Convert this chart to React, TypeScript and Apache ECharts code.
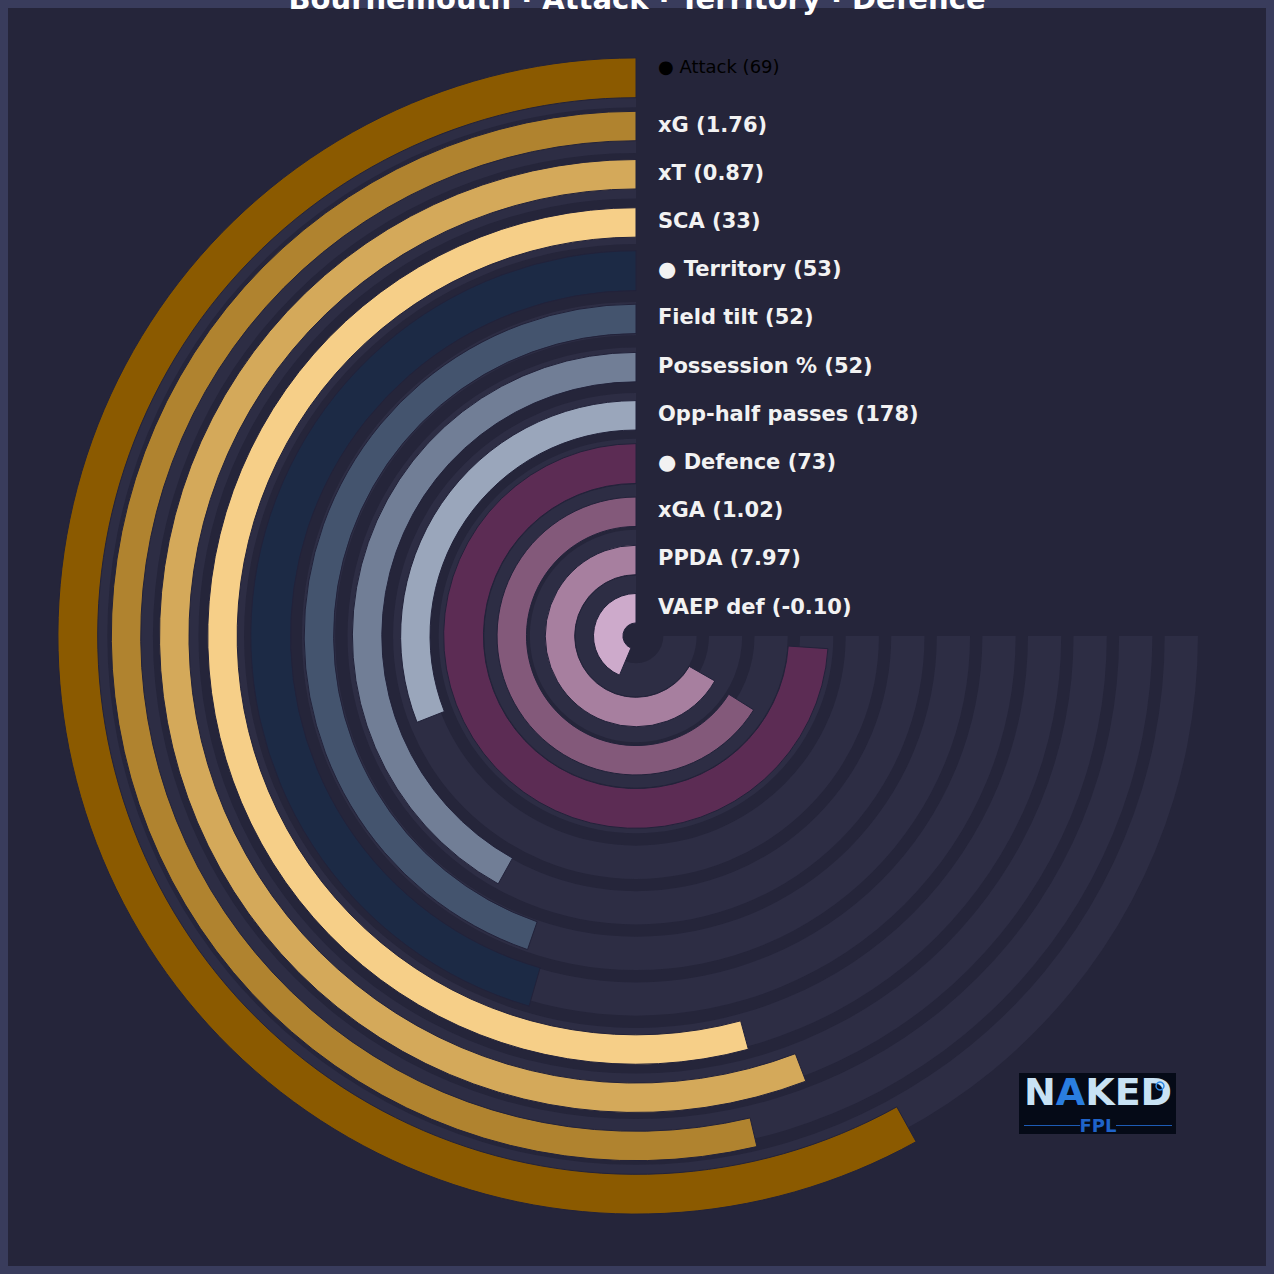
import React, { useEffect, useRef } from 'react';
import * as echarts from 'echarts';

const TITLE = 'Bournemouth · Attack · Territory · Defence';
const METRICS = ['Attack', 'xG', 'xT', 'SCA', 'Territory', 'Field tilt', 'Possession %', 'Opp-half passes', 'Defence', 'xGA', 'PPDA', 'VAEP def'];
const DISPLAY_VALUES = ['69', '1.76', '0.87', '33', '53', '52', '52', '178', '73', '1.02', '7.97', '-0.10'];
const PERCENTILES = [77.4, 71.6, 74.4, 72.3, 60.7, 59.6, 55.9, 41.3, 98.6, 88.1, 89.0, 58.2];
const IS_GROUP = [true, false, false, false, true, false, false, false, true, false, false, false];
const TRACK_MAX = 100;

const BAR_COLORS = ['#8b5a00', '#b0832f', '#d4a95a', '#f6cf88', '#1c2a45', '#44546e', '#717e96', '#9aa6bb', '#5c2c54', '#83597a', '#a77f9f', '#cdaacb'];
const TRACK_COLOR = '#2d2d44';
const BG_INNER = '#25253a';
const BG_FRAME = '#393c5c';
const FONT = '"DejaVu Sans", sans-serif';

function sectorFrom(params: any, api: any, frac: number) {
  const idx = api.value(0);
  const v = api.value(1);
  const cs = params.coordSys;
  const start = api.coord([idx, 0]);
  const end = api.coord([idx, v]);
  const band = api.size([1, 0])[0];
  const rMid = start[2];
  const half = (band * frac) / 2;
  return {
    start,
    shape: {
      cx: cs.cx,
      cy: cs.cy,
      r0: rMid - half,
      r: rMid + half,
      startAngle: -start[3],
      endAngle: -end[3],
      clockwise: end[3] < start[3],
    },
  };
}

export default function App() {
  const ref = useRef<HTMLDivElement>(null);
  useEffect(() => {
    const chart = echarts.init(ref.current!, null, { renderer: 'svg' });
    const angleMax = (TRACK_MAX * 360) / 270;
    const angleAxisBase = { type: 'value', min: 0, max: angleMax, startAngle: 90, clockwise: false, show: false };
    const radiusAxisBase = { type: 'category', data: METRICS, inverse: true, show: false };

    const option: any = {
      animation: false,
      polar: [
        { center: [636, 636], radius: [3.7, 582.3] },
        { center: [636, 636], radius: [21.2, 568.1] },
      ],
      angleAxis: [
        { ...angleAxisBase, polarIndex: 0 },
        { ...angleAxisBase, polarIndex: 1 },
      ],
      radiusAxis: [
        { ...radiusAxisBase, polarIndex: 0 },
        { ...radiusAxisBase, polarIndex: 1 },
      ],
      series: [
        {
          type: 'custom',
          coordinateSystem: 'polar',
          polarIndex: 1,
          z: 2,
          data: METRICS.map((_, i) => [i, TRACK_MAX]),
          renderItem: (params: any, api: any) => {
            const s = sectorFrom(params, api, 0.73);
            return { type: 'sector', shape: s.shape, style: { fill: TRACK_COLOR } };
          },
        },
        {
          type: 'custom',
          coordinateSystem: 'polar',
          polarIndex: 0,
          z: 3,
          data: METRICS.map((_, i) => [i, PERCENTILES[i]]),
          renderItem: (params: any, api: any) => {
            const idx = api.value(0);
            const group = IS_GROUP[idx];
            const s = sectorFrom(params, api, group ? 0.825 : 0.61);
            const isFirst = idx === 0;
            const text = (group ? '● ' : '') + METRICS[idx] + ' (' + DISPLAY_VALUES[idx] + ')';
            return {
              type: 'group',
              children: [
                {
                  type: 'sector',
                  shape: s.shape,
                  style: { fill: BAR_COLORS[idx], stroke: '#22223a', lineWidth: 1 },
                },
                {
                  type: 'text',
                  x: s.start[0] + 22,
                  y: s.start[1] + (isFirst ? -11 : -1.5),
                  style: {
                    text,
                    fill: isFirst ? '#000000' : '#f2f2f2',
                    fontFamily: FONT,
                    fontSize: isFirst ? 18 : 21,
                    fontWeight: isFirst ? 'normal' : 'bold',
                    align: 'left',
                    verticalAlign: 'middle',
                  },
                },
              ],
            };
          },
        },
      ],
      graphic: [
        { type: 'rect', z: 0, shape: { x: 8, y: 8, width: 1258, height: 1258 }, style: { fill: BG_INNER } },
        {
          type: 'text',
          z: 20,
          x: 637,
          y: -1,
          style: {
            text: TITLE,
            fill: '#ffffff',
            fontFamily: FONT,
            fontSize: 29,
            fontWeight: 'bold',
            align: 'center',
            verticalAlign: 'middle',
          },
        },
        {
          type: 'group',
          z: 20,
          children: [
            { type: 'rect', shape: { x: 1019, y: 1073, width: 157, height: 61 }, style: { fill: '#050a17' } },
            {
              type: 'text',
              x: 1024,
              y: 1092,
              style: {
                text: '{n|N}{a|A}{n|KED}',
                align: 'left',
                verticalAlign: 'middle',
                rich: {
                  n: { fill: '#c8e2f4', fontFamily: FONT, fontSize: 38, fontWeight: 'bold' },
                  a: { fill: '#2a7ee0', fontFamily: FONT, fontSize: 38, fontWeight: 'bold' },
                },
              },
            },
            { type: 'circle', shape: { cx: 1160, cy: 1086, r: 4 }, style: { fill: 'none', stroke: '#2e8ae6', lineWidth: 1.5 } },
            { type: 'line', shape: { x1: 1024, y1: 1125.5, x2: 1080, y2: 1125.5 }, style: { stroke: '#1d5bb5', lineWidth: 1 } },
            { type: 'line', shape: { x1: 1116, y1: 1125.5, x2: 1172, y2: 1125.5 }, style: { stroke: '#1d5bb5', lineWidth: 1 } },
            {
              type: 'text',
              x: 1098,
              y: 1125,
              style: {
                text: 'FPL',
                fill: '#1f63c9',
                fontFamily: FONT,
                fontSize: 18,
                fontWeight: 'bold',
                align: 'center',
                verticalAlign: 'middle',
              },
            },
          ],
        },
      ],
    };
    chart.setOption(option);
    return () => chart.dispose();
  }, []);
  return (
    <div
      ref={ref}
      style={{ position: 'fixed', left: 0, top: 0, width: 1274, height: 1274, background: BG_FRAME }}
    />
  );
}
